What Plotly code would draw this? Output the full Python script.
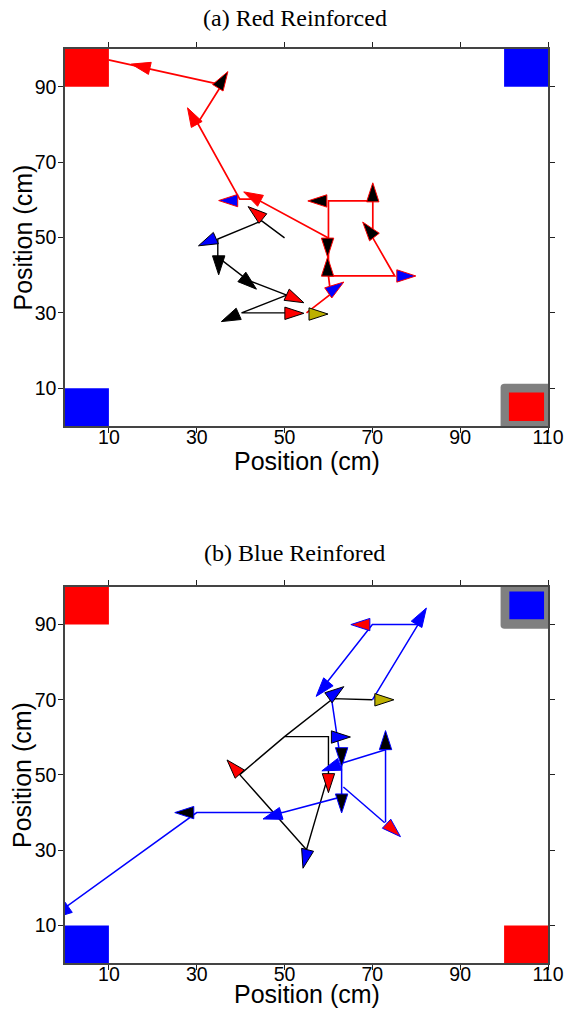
import plotly.graph_objects as go

# ---------------- axes ----------------
X_TICKS = [10, 30, 50, 70, 90, 110]
Y_TICKS = [10, 30, 50, 70, 90]
X_RANGE = [0, 110]
Y_RANGE = [0, 100]

RED = "#ff0000"
BLUE = "#0000ff"
BLACK = "#000000"
YELLOW = "#bdb000"
GREY = "#808080"

# ---------------- panel (a) Red Reinforced ----------------
A_RED_PATH_X = [55.0, 60.5, 60.0, 60.0, 60.0, 70.1, 70.1, 75.1, 60.0, None,
                60.0, 43.6, 39.8, 30.2, 35.7, 9.9]
A_RED_PATH_Y = [30.0, 35.0, 39.8, 49.9, 59.7, 59.7, 49.9, 39.8, 39.8, None,
                49.9, 60.2, 60.2, 80.3, 90.5, 97.1]

A_BLACK_PATH_X = [50.0, 44.8, 34.8, 34.8, 41.6, 50.5, 40.2, 50.5]
A_BLACK_PATH_Y = [49.9, 54.4, 49.6, 44.8, 38.7, 34.7, 30.0, 30.0]

# heading arrows (tip position, heading in degrees clockwise from up)
A_ARROW_X = [15.1, 37.1, 27.9, 35.0, 40.7, 55.3, 70.1, 59.8, 59.8, 79.9, 67.8, 63.5,
             59.9, 41.7, 30.4, 35.0, 43.6, 54.4, 35.6, 54.4]
A_ARROW_Y = [96.0, 94.0, 84.4, 59.8, 62.1, 59.7, 64.5, 44.8, 44.8, 39.8, 54.1, 38.2,
             29.7, 58.2, 47.8, 40.1, 36.3, 32.7, 27.7, 29.9]
A_ARROW_HEADING = [-77, 32, -29, -90, -62, -90, 0, 180, 0, 90, -38, 55,
                   90, -51, -114, 180, 130, 115, -114, 90]
A_ARROW_FILL = [RED, BLACK, RED, BLUE, RED, BLACK, BLACK, BLACK, BLACK, BLUE, BLACK, BLUE,
                YELLOW, RED, BLUE, BLACK, BLACK, RED, BLACK, RED]
A_ARROW_EDGE = [RED] * 12 + [BLACK] * 8

# corner zones: x0, x1, y0, y1, colour
A_ZONE_X0 = [0, 100, 0]
A_ZONE_X1 = [10, 110, 10]
A_ZONE_Y0 = [90, 90, 0]
A_ZONE_Y1 = [100, 100, 10]
A_ZONE_COLOR = [RED, BLUE, BLUE]
A_GOAL_BOX = [99.2, 110, 0, 11.2]          # grey highlighted corner
A_GOAL_INNER = [101.1, 109.1, 1.3, 8.9]
A_GOAL_COLOR = RED

# ---------------- panel (b) Blue Reinfored ----------------
B_BLACK_PATH_X = [70.0, 61.0, 50.0, 60.0, 60.0, 55.0, 39.8, 50.0]
B_BLACK_PATH_Y = [70.0, 70.3, 60.2, 60.2, 50.1, 30.1, 50.1, 60.2]

B_BLUE_PATH_X = [70.0, 80.4, 70.0, 59.5, None,
                 60.7, 63.0, 63.0, 49.6, 30.0, 0.0, None,
                 73.0, 63.2, None,
                 73.0, 73.0, None,
                 63.4, 72.8]
B_BLUE_PATH_Y = [70.0, 90.0, 90.0, 74.4, None,
                 70.3, 52.2, 44.2, 40.0, 40.0, 14.7, None,
                 56.7, 53.2, None,
                 56.7, 37.4, None,
                 46.8, 37.3]

B_ARROW_X = [74.9, 63.5, 65.0, 60.0, 36.9, 54.2,
             82.3, 65.1, 57.2, 63.0, 58.5, 73.0, 76.4, 63.0, 45.1, 25.0, -2.7]
B_ARROW_Y = [70.0, 73.5, 60.1, 45.3, 54.0, 25.2,
             94.4, 90.0, 70.9, 52.2, 51.1, 61.8, 33.6, 39.9, 38.3, 40.0, 11.9]
B_ARROW_HEADING = [90, 54, 90, 180, -42, -166,
                   31, -90, -140, 180, -110, 0, 133, 180, -107, -90, -125]
B_ARROW_FILL = [YELLOW, BLUE, BLUE, RED, RED, BLUE,
                BLUE, RED, BLUE, BLACK, BLUE, BLACK, RED, BLACK, BLUE, BLACK, BLUE]
B_ARROW_EDGE = [BLACK] * 6 + [BLUE] * 11

B_ZONE_X0 = [0, 0, 100]
B_ZONE_X1 = [10, 10, 110]
B_ZONE_Y0 = [90, 0, 0]
B_ZONE_Y1 = [100, 10, 10]
B_ZONE_COLOR = [RED, BLUE, RED]
B_GOAL_BOX = [99.2, 110, 88.9, 100]
B_GOAL_INNER = [101.2, 109.1, 91.4, 98.8]
B_GOAL_COLOR = BLUE

TITLES = ["(a) Red Reinforced", "(b) Blue Reinfored"]
AXIS_TITLE = "Position (cm)"

# ---------------- figure ----------------
fig = go.Figure()


def add_panel(xa, ya, paths, ax, ay, ah, af, ae):
    for px, py, col, w in paths:
        fig.add_trace(go.Scatter(x=px, y=py, mode="lines", xaxis=xa, yaxis=ya,
                                 line=dict(color=col, width=w), hoverinfo="skip",
                                 showlegend=False))
    fig.add_trace(go.Scatter(x=ax, y=ay, mode="markers", xaxis=xa, yaxis=ya,
                             marker=dict(symbol="arrow", size=20, angle=ah, color=af,
                                         line=dict(color=ae, width=1)),
                             hoverinfo="skip", showlegend=False, cliponaxis=True))


add_panel("x", "y",
          [(A_BLACK_PATH_X, A_BLACK_PATH_Y, BLACK, 1.4),
           (A_RED_PATH_X, A_RED_PATH_Y, RED, 1.7)],
          A_ARROW_X, A_ARROW_Y, A_ARROW_HEADING, A_ARROW_FILL, A_ARROW_EDGE)
add_panel("x2", "y2",
          [(B_BLACK_PATH_X, B_BLACK_PATH_Y, BLACK, 1.4),
           (B_BLUE_PATH_X, B_BLUE_PATH_Y, BLUE, 1.5)],
          B_ARROW_X, B_ARROW_Y, B_ARROW_HEADING, B_ARROW_FILL, B_ARROW_EDGE)

shapes = []


def zones(xref, yref, x0s, x1s, y0s, y1s, cols, box, inner, icol, round_top):
    for x0, x1, y0, y1, c in zip(x0s, x1s, y0s, y1s, cols):
        shapes.append(dict(type="rect", xref=xref, yref=yref, x0=x0, x1=x1, y0=y0, y1=y1,
                           fillcolor=c, line=dict(width=0), layer="below"))
    bx0, bx1, by0, by1 = box
    rx, ry = 0.9, 1.0
    if round_top:   # rounded corner at top-left of the box
        path = (f"M{bx0},{by0} L{bx0},{by1-ry} Q{bx0},{by1} {bx0+rx},{by1} "
                f"L{bx1},{by1} L{bx1},{by0} Z")
    else:           # rounded corner at bottom-left
        path = (f"M{bx0},{by1} L{bx0},{by0+ry} Q{bx0},{by0} {bx0+rx},{by0} "
                f"L{bx1},{by0} L{bx1},{by1} Z")
    shapes.append(dict(type="path", xref=xref, yref=yref, path=path,
                       fillcolor=GREY, line=dict(width=0), layer="below"))
    ix0, ix1, iy0, iy1 = inner
    shapes.append(dict(type="rect", xref=xref, yref=yref, x0=ix0, x1=ix1, y0=iy0, y1=iy1,
                       fillcolor=icol, line=dict(width=0), layer="below"))


zones("x", "y", A_ZONE_X0, A_ZONE_X1, A_ZONE_Y0, A_ZONE_Y1, A_ZONE_COLOR,
      A_GOAL_BOX, A_GOAL_INNER, A_GOAL_COLOR, True)
zones("x2", "y2", B_ZONE_X0, B_ZONE_X1, B_ZONE_Y0, B_ZONE_Y1, B_ZONE_COLOR,
      B_GOAL_BOX, B_GOAL_INNER, B_GOAL_COLOR, False)

tickfont = dict(family="Liberation Sans, Arial, sans-serif", size=19.5, color="black")
titlefont = dict(family="Liberation Sans, Arial, sans-serif", size=25, color="black")
headfont = dict(family="Liberation Serif, Times New Roman, serif", size=24, color="black")

common_x = dict(range=X_RANGE, tickvals=X_TICKS, showgrid=False, zeroline=False,
                showline=True, linecolor="#444", linewidth=1.5, mirror="ticks",
                ticks="outside", ticklen=5, tickcolor="#222", tickfont=tickfont,
                ticklabelstandoff=-12, automargin=False)
common_y = dict(range=Y_RANGE, tickvals=Y_TICKS, showgrid=False, zeroline=False,
                showline=True, linecolor="#444", linewidth=1.5, mirror="ticks",
                ticks="outside", ticklen=5, tickcolor="#222", tickfont=tickfont,
                ticklabelstandoff=-2, automargin=False)

TOP_DOMAIN = [0.5875, 1.0]
BOT_DOMAIN = [0.0, 0.4114]


def text_ann(text, x, y, font, angle=0):
    return dict(text=text, xref="paper", yref="paper", x=x, y=y, textangle=angle,
                xanchor="center", yanchor="middle", showarrow=False, font=font)


annotations = [
    text_ann(TITLES[0], 0.476, 1.034, headfont),
    text_ann(TITLES[1], 0.476, 0.4486, headfont),
    # axis titles
    text_ann(AXIS_TITLE, 0.5, 0.549, titlefont),
    text_ann(AXIS_TITLE, 0.5, -0.0339, titlefont),
    text_ann(AXIS_TITLE, -0.089, sum(TOP_DOMAIN) / 2, titlefont, -90),
    text_ann(AXIS_TITLE, -0.089, sum(BOT_DOMAIN) / 2, titlefont, -90),
]

fig.update_layout(
    width=570, height=1009,
    margin=dict(l=65, r=22, t=49, b=46),
    paper_bgcolor="white", plot_bgcolor="white",
    xaxis=dict(domain=[0, 1], anchor="y", **common_x),
    yaxis=dict(domain=TOP_DOMAIN, anchor="x", **common_y),
    xaxis2=dict(domain=[0, 1], anchor="y2", **common_x),
    yaxis2=dict(domain=BOT_DOMAIN, anchor="x2", **common_y),
    shapes=shapes,
    annotations=annotations,
)

# remove the default page margin so the 570x1009 figure fills the window exactly
fig.write_html("out.html", config={"displayModeBar": False},
               post_script="document.body.style.margin='0';document.body.style.overflow='hidden';")
